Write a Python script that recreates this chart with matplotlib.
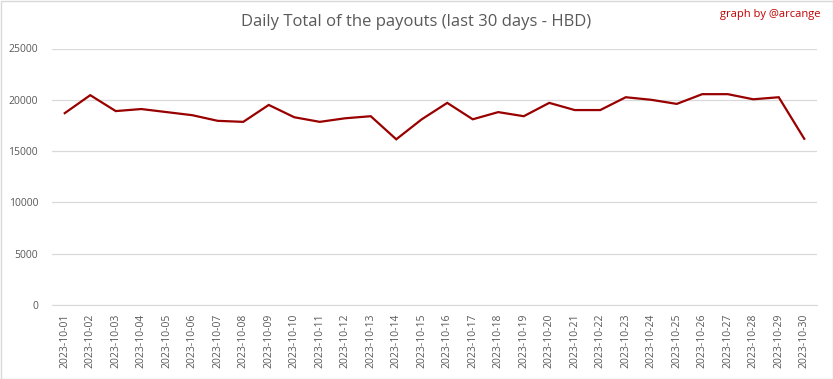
import matplotlib.pyplot as plt
from matplotlib.patches import Rectangle

# daily HBD payout totals
dates = [f"2023-10-{d:02d}" for d in range(1, 31)]
payouts = [18700, 20450, 18900, 19100, 18800, 18500, 17950, 17850, 19500, 18300,
           17850, 18200, 18400, 16150, 18100, 19700, 18100, 18800, 18400, 19700,
           19000, 19000, 20250, 20000, 19600, 20550, 20550, 20050, 20250, 16200]
y_ticks = [0, 5000, 10000, 15000, 20000, 25000]

plt.rcParams["font.family"] = ["Open Sans", "DejaVu Sans"]

fig = plt.figure(figsize=(8.33, 3.79), dpi=100)
ax = fig.add_axes([52 / 833, 1 - 305 / 379, 765 / 833, (305 - 48.5) / 379])

ax.plot(range(len(dates)), payouts, color="#990000", lw=1.6, solid_joinstyle="miter")

ax.set_xlim(-0.5, len(dates) - 0.5)
ax.set_ylim(0, 25000)
ax.set_yticks(y_ticks)
ax.set_yticklabels([str(v) for v in y_ticks])
ax.set_xticks(range(len(dates)))
ax.set_xticklabels(dates, rotation=90)
ax.tick_params(axis="both", length=0, labelsize=7.5, colors="#595959")
ax.tick_params(axis="y", pad=10)
ax.tick_params(axis="x", pad=6)
ax.grid(axis="y", color="#d9d9d9", lw=0.9)
ax.set_axisbelow(True)
for s in ["top", "right", "left"]:
    ax.spines[s].set_visible(False)
ax.spines["bottom"].set_color("#d9d9d9")

fig.text(0.5, 1 - 22 / 379, "Daily Total of the payouts (last 30 days - HBD)",
         ha="center", va="center", fontsize=12, color="#595959")
fig.text(1 - 12 / 833, 1 - 15 / 379, "graph by @arcange", ha="right", va="center",
         fontsize=8, color="#c00000")

fig.patches.append(Rectangle((0.5 / 833, 0.5 / 379), 1 - 1 / 833, 1 - 1 / 379,
                             transform=fig.transFigure, fill=False,
                             edgecolor="#d9d9d9", lw=1))

fig.savefig("out.png", dpi=100)
